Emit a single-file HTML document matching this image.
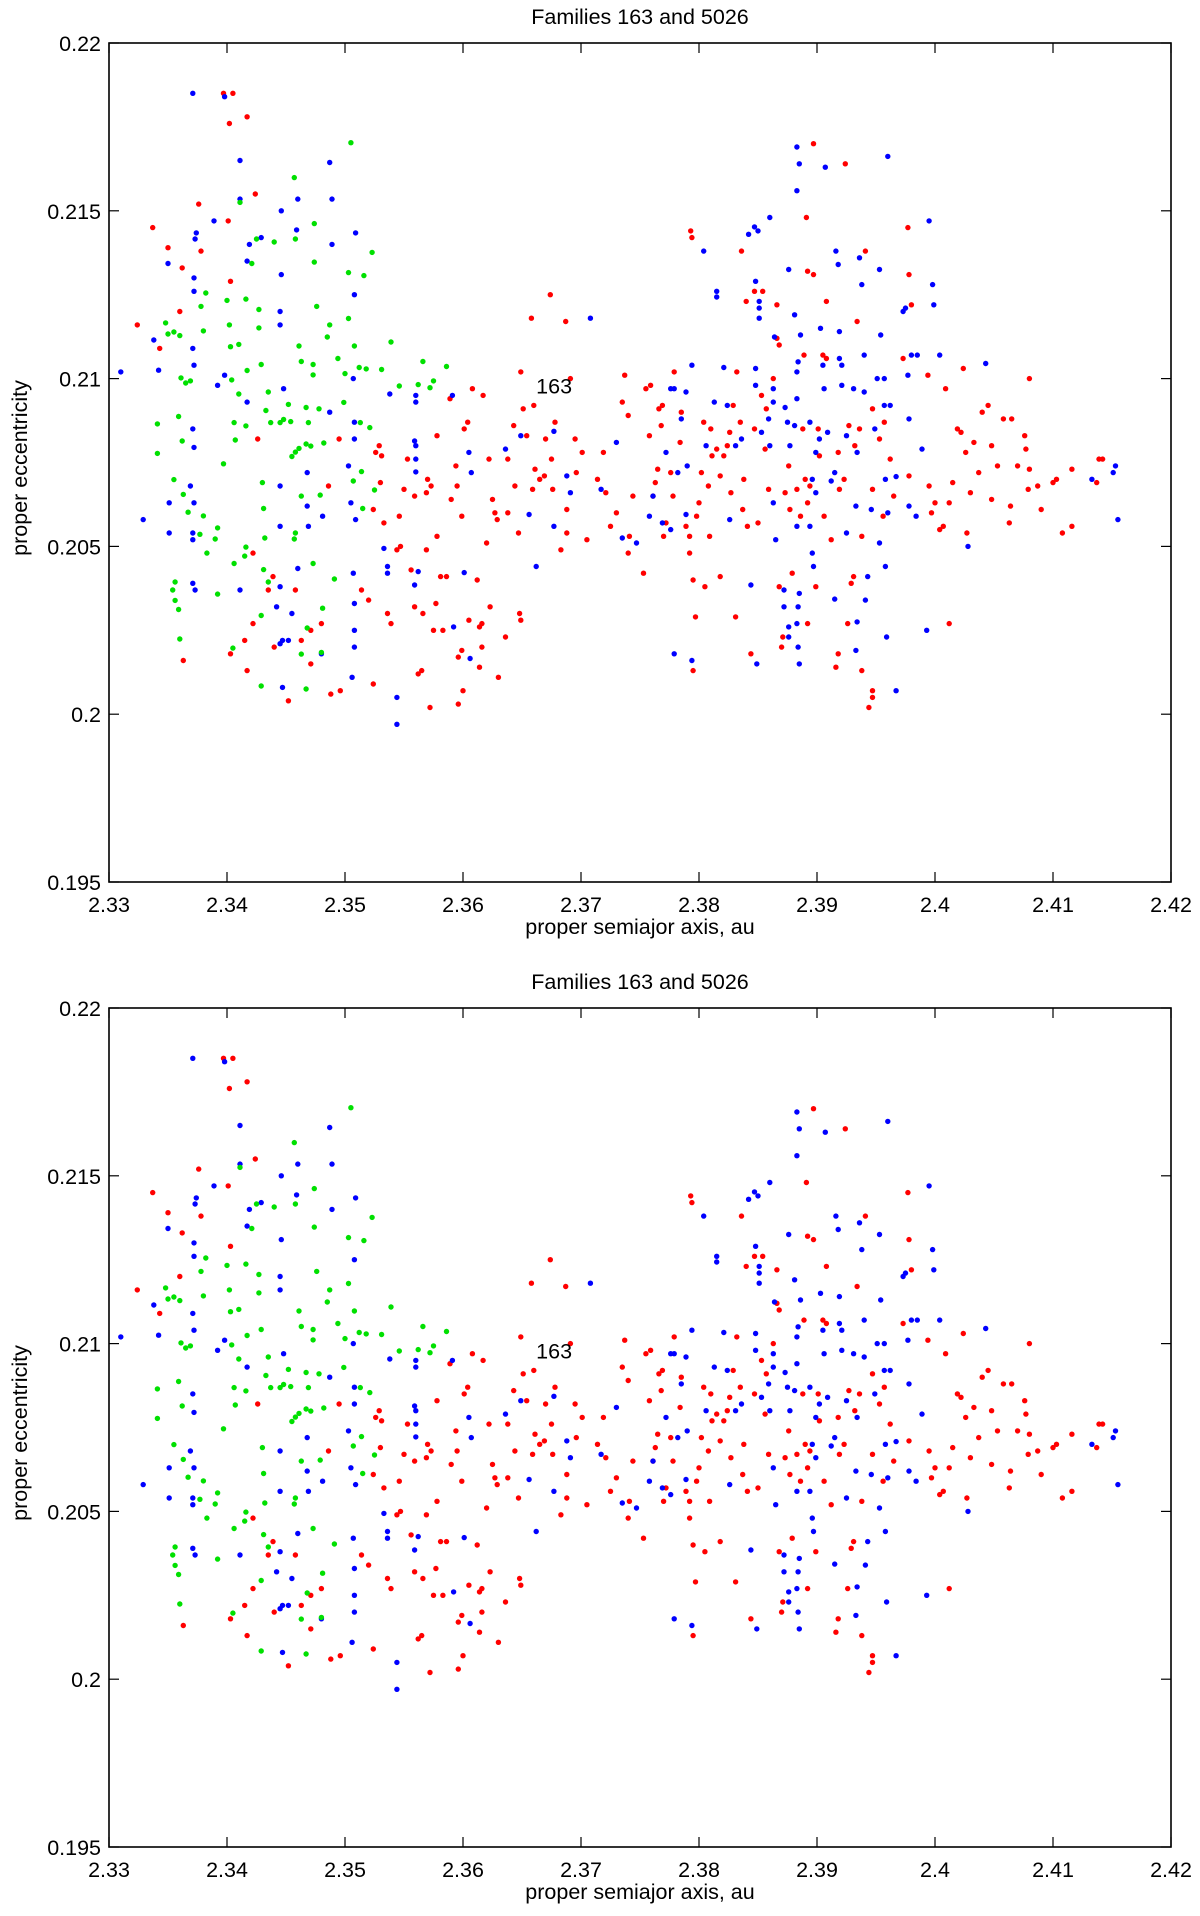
<!DOCTYPE html>
<html><head><meta charset="utf-8"><style>
html,body{margin:0;padding:0;background:#fff;}
svg{display:block;font-family:"Liberation Sans",Arial,sans-serif;}
</style></head><body>
<svg id="root" width="1200" height="1916" viewBox="0 0 1200 1916" xmlns="http://www.w3.org/2000/svg"></svg>
<script>
const xTicks=[2.33,2.34,2.35,2.36,2.37,2.38,2.39,2.4,2.41,2.42];
const xTickLabels=["2.33","2.34","2.35","2.36","2.37","2.38","2.39","2.4","2.41","2.42"];
const yTicks=[0.195,0.2,0.205,0.21,0.215,0.22];
const yTickLabels=["0.195","0.2","0.205","0.21","0.215","0.22"];
const greenPts=[[2.3341,.20865],[2.3341,.20777],[2.3348,.21166],[2.3350,.21133],[2.3355,.21139],[2.3360,.21128],[2.3361,.21002],[2.3365,.20987],[2.3369,.20993],[2.3378,.21215],[2.3382,.21255],[2.3380,.21142],[2.3359,.20887],[2.3362,.20814],[2.3355,.20699],[2.3363,.20655],[2.3367,.20602],[2.3356,.20394],[2.3354,.20370],[2.3356,.20339],[2.3359,.20312],[2.3360,.20224],[2.3377,.20536],[2.3383,.20480],[2.3380,.20591],[2.3390,.20522],[2.3392,.20555],[2.3392,.20358],[2.3397,.20746],[2.3400,.21233],[2.3402,.21160],[2.3403,.21095],[2.3404,.20996],[2.3406,.20869],[2.3407,.20817],[2.3410,.21102],[2.3410,.20954],[2.3411,.21525],[2.3416,.20859],[2.3416,.21237],[2.3417,.21024],[2.3421,.21343],[2.3425,.21416],[2.3427,.21206],[2.3427,.21151],[2.3429,.21042],[2.3430,.20690],[2.3433,.20905],[2.3435,.20960],[2.3437,.20869],[2.3440,.21407],[2.3431,.20613],[2.3432,.20525],[2.3431,.20431],[2.3435,.20394],[2.3429,.20084],[2.3429,.20294],[2.3415,.20471],[2.3416,.20498],[2.3406,.20449],[2.3405,.20197],[2.3445,.20869],[2.3448,.20878],[2.3452,.20923],[2.3455,.20768],[2.3454,.20872],[2.3458,.20781],[2.3458,.20540],[2.3457,.20522],[2.3461,.20792],[2.3457,.21599],[2.3458,.21416],[2.3461,.21097],[2.3463,.21051],[2.3467,.20914],[2.3467,.20805],[2.3469,.20869],[2.3471,.20799],[2.3473,.21011],[2.3474,.21462],[2.3474,.21347],[2.3473,.21042],[2.3476,.21215],[2.3478,.20910],[2.3482,.20808],[2.3479,.20653],[2.3485,.21124],[2.3487,.21160],[2.3491,.20403],[2.3494,.21060],[2.3499,.20929],[2.3500,.21015],[2.3503,.21179],[2.3503,.21316],[2.3505,.21703],[2.3508,.21097],[2.3512,.21033],[2.3513,.20869],[2.3514,.20723],[2.3516,.21307],[2.3518,.21029],[2.3521,.20854],[2.3523,.21376],[2.3525,.20668],[2.3515,.20613],[2.3507,.20695],[2.3473,.20449],[2.3468,.20257],[2.3463,.20179],[2.3467,.20075],[2.3481,.20316],[2.3480,.20184],[2.3463,.20650],[2.3531,.21027],[2.3539,.21109],[2.3546,.20978],[2.3562,.20982],[2.3566,.21051],[2.3572,.20973],[2.3586,.21036],[2.3575,.20993]];
const redPts=[[2.3324,.2116],[2.3337,.2145],[2.3343,.2109],[2.3350,.2139],[2.3362,.2133],[2.3360,.2120],[2.3363,.2016],[2.3376,.2152],[2.3378,.2138],[2.3401,.2147],[2.3403,.2129],[2.3397,.2185],[2.3402,.2176],[2.3405,.2185],[2.3417,.2178],[2.3424,.2155],[2.3403,.2018],[2.3415,.2022],[2.3417,.2013],[2.3422,.2027],[2.3422,.2048],[2.3426,.2082],[2.3439,.2041],[2.3440,.2020],[2.3435,.2037],[2.3452,.2004],[2.3458,.2037],[2.3463,.2022],[2.3471,.2015],[2.3471,.2025],[2.3480,.2027],[2.3486,.2068],[2.3488,.2006],[2.3495,.2082],[2.3496,.2007],[2.3514,.2037],[2.3520,.2034],[2.3524,.2009],[2.3524,.2061],[2.3526,.2078],[2.3529,.2080],[2.3533,.2057],[2.3530,.2069],[2.3531,.2077],[2.3536,.2030],[2.3539,.2027],[2.3544,.2049],[2.3546,.2059],[2.3547,.2050],[2.3550,.2067],[2.3553,.2076],[2.3556,.2043],[2.3559,.2065],[2.3559,.2032],[2.3562,.2012],[2.3565,.2013],[2.3566,.2030],[2.3569,.2066],[2.3569,.2049],[2.3570,.2070],[2.3572,.2002],[2.3573,.2068],[2.3575,.2025],[2.3578,.2083],[2.3578,.2053],[2.3577,.2033],[2.3581,.2041],[2.3586,.2041],[2.3589,.2094],[2.3583,.2025],[2.3590,.2064],[2.3594,.2074],[2.3595,.2068],[2.3596,.2017],[2.3596,.2003],[2.3600,.2007],[2.3601,.2085],[2.3599,.2019],[2.3599,.2059],[2.3604,.2087],[2.3605,.2028],[2.3608,.2097],[2.3612,.2040],[2.3614,.2026],[2.3614,.2014],[2.3616,.2020],[2.3616,.2027],[2.3617,.2095],[2.3620,.2051],[2.3622,.2076],[2.3623,.2032],[2.3625,.2064],[2.3627,.2060],[2.3629,.2058],[2.3630,.2011],[2.3636,.2023],[2.3638,.2076],[2.3638,.2060],[2.3643,.2086],[2.3644,.2068],[2.3647,.2054],[2.3648,.2030],[2.3649,.2028],[2.3649,.2102],[2.3651,.2091],[2.3654,.2083],[2.3658,.2118],[2.3659,.2067],[2.3660,.2092],[2.3661,.2073],[2.3665,.2070],[2.3670,.2082],[2.3669,.2071],[2.3675,.2076],[2.3678,.2087],[2.3676,.2067],[2.3674,.2125],[2.3683,.2049],[2.3687,.2117],[2.3688,.2061],[2.3688,.2054],[2.3695,.2082],[2.3696,.2072],[2.3691,.2100],[2.3701,.2078],[2.3705,.2052],[2.3714,.2070],[2.3719,.2078],[2.3721,.2066],[2.3725,.2056],[2.3730,.2060],[2.3735,.2093],[2.3737,.2101],[2.3740,.2089],[2.3741,.2053],[2.3740,.2048],[2.3744,.2065],[2.3753,.2042],[2.3755,.2097],[2.3758,.2083],[2.3759,.2098],[2.3761,.2065],[2.3763,.2069],[2.3765,.2073],[2.3766,.2091],[2.3768,.2086],[2.3769,.2092],[2.3770,.2053],[2.3772,.2057],[2.3778,.2065],[2.3776,.2072],[2.3779,.2102],[2.3784,.2081],[2.3785,.2090],[2.3789,.2056],[2.3792,.2053],[2.3792,.2048],[2.3795,.2040],[2.3795,.2013],[2.3793,.2144],[2.3794,.2142],[2.3797,.2029],[2.3798,.2059],[2.3800,.2063],[2.3802,.2072],[2.3804,.2087],[2.3805,.2038],[2.3808,.2068],[2.3809,.2053],[2.3810,.2085],[2.3811,.2077],[2.3815,.2079],[2.3818,.2041],[2.3818,.2071],[2.3821,.2077],[2.3824,.2080],[2.3826,.2084],[2.3827,.2066],[2.3829,.2092],[2.3831,.2029],[2.3832,.2102],[2.3835,.2087],[2.3836,.2138],[2.3837,.2061],[2.3838,.2070],[2.3840,.2123],[2.3841,.2056],[2.3844,.2018],[2.3847,.2126],[2.3847,.2085],[2.3850,.2057],[2.3853,.2095],[2.3854,.2126],[2.3856,.2079],[2.3857,.2091],[2.3859,.2067],[2.3863,.2100],[2.3866,.2112],[2.3866,.2122],[2.3868,.2110],[2.3868,.2038],[2.3870,.2020],[2.3871,.2023],[2.3873,.2066],[2.3876,.2074],[2.3877,.2061],[2.3879,.2042],[2.3883,.2067],[2.3886,.2059],[2.3888,.2085],[2.3889,.2107],[2.3890,.2070],[2.3891,.2148],[2.3892,.2132],[2.3892,.2063],[2.3892,.2027],[2.3894,.2068],[2.3897,.2131],[2.3897,.2170],[2.3899,.2038],[2.3901,.2085],[2.3902,.2077],[2.3905,.2107],[2.3906,.2059],[2.3908,.2123],[2.3908,.2106],[2.3912,.2052],[2.3916,.2014],[2.3918,.2078],[2.3918,.2018],[2.3919,.2067],[2.3923,.2070],[2.3924,.2164],[2.3926,.2027],[2.3927,.2086],[2.3929,.2039],[2.3932,.2080],[2.3931,.2041],[2.3934,.2117],[2.3936,.2085],[2.3938,.2053],[2.3938,.2013],[2.3941,.2138],[2.3944,.2002],[2.3947,.2007],[2.3947,.2091],[2.3947,.2067],[2.3947,.2005],[2.3953,.2082],[2.3956,.2059],[2.3957,.2087],[2.3962,.2076],[2.3965,.2065],[2.3973,.2106],[2.3977,.2145],[2.3978,.2071],[2.3980,.2122],[2.3978,.2131],[2.3994,.2101],[2.3995,.2068],[2.3997,.2060],[2.4000,.2063],[2.4004,.2055],[2.4007,.2056],[2.4009,.2097],[2.4012,.2063],[2.4012,.2027],[2.4015,.2069],[2.4024,.2103],[2.4019,.2085],[2.4022,.2084],[2.4026,.2078],[2.4027,.2054],[2.4030,.2066],[2.4033,.2081],[2.4037,.2072],[2.4040,.2090],[2.4045,.2092],[2.4048,.2064],[2.4048,.2080],[2.4053,.2074],[2.4058,.2088],[2.4063,.2057],[2.4064,.2062],[2.4065,.2088],[2.4070,.2074],[2.4076,.2083],[2.4077,.2079],[2.4080,.2100],[2.4079,.2067],[2.4080,.2073],[2.4087,.2068],[2.4090,.2061],[2.4100,.2069],[2.4103,.2070],[2.4108,.2054],[2.4116,.2056],[2.4116,.2073],[2.4137,.2069],[2.4139,.2076],[2.4142,.2076]];
const bluePts=[[2.3310,.2102],[2.3329,.2058],[2.3338,.21115],[2.3342,.21025],[2.3350,.21343],[2.3351,.2054],[2.3351,.2063],[2.3371,.2185],[2.3372,.2130],[2.3373,.21416],[2.3374,.21434],[2.3372,.2126],[2.3371,.2109],[2.3372,.2104],[2.3371,.2085],[2.3372,.20795],[2.3369,.2068],[2.3372,.2063],[2.3371,.2054],[2.3371,.2052],[2.3371,.2039],[2.3373,.2037],[2.3389,.2147],[2.3392,.2098],[2.3398,.2101],[2.3398,.2184],[2.3411,.2165],[2.3411,.21535],[2.3419,.2140],[2.3417,.2135],[2.3417,.2093],[2.3411,.2037],[2.3429,.2142],[2.3446,.2150],[2.3446,.2131],[2.3445,.2120],[2.3445,.2116],[2.3448,.2097],[2.3445,.2068],[2.3445,.2056],[2.3442,.2032],[2.3445,.2021],[2.3447,.2022],[2.3447,.2008],[2.3445,.2038],[2.3460,.21535],[2.3459,.21443],[2.3460,.20434],[2.3455,.2030],[2.3452,.2022],[2.3468,.2072],[2.3468,.2062],[2.3469,.2056],[2.3480,.2018],[2.3481,.2059],[2.3487,.21644],[2.3489,.21535],[2.3489,.2140],[2.3487,.2090],[2.3503,.2074],[2.3505,.2063],[2.3509,.2058],[2.3506,.2011],[2.3508,.2025],[2.3508,.2020],[2.3508,.2033],[2.3507,.2042],[2.3508,.2125],[2.3509,.21434],[2.3507,.2100],[2.3508,.2087],[2.3508,.2082],[2.3533,.20494],[2.3536,.2044],[2.3536,.2042],[2.3538,.20954],[2.3559,.20814],[2.3560,.2080],[2.3560,.2076],[2.3560,.20722],[2.3559,.20385],[2.3562,.20425],[2.3560,.2095],[2.3560,.2093],[2.3544,.1997],[2.3544,.2005],[2.3591,.2095],[2.3601,.20422],[2.3605,.2078],[2.3607,.2072],[2.3606,.20166],[2.3592,.2026],[2.3636,.2079],[2.3649,.2083],[2.3656,.20595],[2.3662,.2044],[2.3677,.2056],[2.3677,.20843],[2.3688,.2071],[2.3691,.2066],[2.3708,.2118],[2.3717,.2067],[2.3730,.2081],[2.3735,.20525],[2.3747,.2051],[2.3758,.2059],[2.3761,.2065],[2.3769,.2057],[2.3776,.2097],[2.3779,.2097],[2.3782,.2072],[2.3776,.2055],[2.3772,.2078],[2.3785,.2088],[2.3789,.2096],[2.3789,.20595],[2.3790,.2074],[2.3779,.2018],[2.3794,.2016],[2.3794,.2104],[2.3804,.2138],[2.3806,.2080],[2.3813,.2093],[2.3815,.21243],[2.3821,.21033],[2.3824,.2092],[2.3815,.2126],[2.3826,.2058],[2.3831,.2080],[2.3836,.2082],[2.3842,.2143],[2.3844,.20385],[2.3847,.21452],[2.3849,.2015],[2.3848,.2129],[2.3850,.2144],[2.3851,.2123],[2.3851,.2121],[2.3851,.2118],[2.3853,.2084],[2.3848,.2098],[2.3848,.2103],[2.3859,.2088],[2.3863,.2097],[2.3863,.2093],[2.3864,.21124],[2.3860,.2148],[2.3860,.2080],[2.3863,.2063],[2.3865,.2052],[2.3872,.2032],[2.3873,.20914],[2.3875,.2087],[2.3872,.2037],[2.3876,.2026],[2.3876,.2023],[2.3883,.2027],[2.3884,.2020],[2.3885,.2015],[2.3884,.2032],[2.3885,.2036],[2.3883,.2156],[2.3885,.2164],[2.3883,.2169],[2.3886,.2113],[2.3876,.21325],[2.3881,.2119],[2.3884,.2105],[2.3883,.2102],[2.3883,.2094],[2.3881,.2086],[2.3877,.2080],[2.3894,.2087],[2.3896,.2070],[2.3883,.2056],[2.3894,.2056],[2.3896,.2048],[2.3897,.2044],[2.3899,.2078],[2.3899,.2066],[2.3902,.2082],[2.3903,.2115],[2.3905,.2104],[2.3906,.2097],[2.3907,.2163],[2.3909,.2084],[2.3912,.20695],[2.3915,.20343],[2.3915,.2072],[2.3916,.2138],[2.3918,.2134],[2.3919,.2114],[2.3919,.2106],[2.3921,.2104],[2.3925,.2083],[2.3925,.2054],[2.3921,.2098],[2.3931,.2097],[2.3933,.2062],[2.3933,.2019],[2.3934,.20275],[2.3934,.2078],[2.3936,.2136],[2.3938,.2128],[2.3940,.2107],[2.3940,.2096],[2.3941,.2034],[2.3943,.2041],[2.3946,.2061],[2.3949,.2085],[2.3951,.2100],[2.3953,.2051],[2.3953,.21325],[2.3954,.2113],[2.3957,.2100],[2.3957,.2092],[2.3958,.2044],[2.3958,.2070],[2.3959,.2023],[2.3960,.21662],[2.3962,.2092],[2.3967,.20708],[2.3960,.2060],[2.3967,.2007],[2.3973,.2120],[2.3975,.2121],[2.3977,.2101],[2.3978,.2088],[2.3978,.2062],[2.3980,.2107],[2.3985,.2107],[2.3984,.2059],[2.3989,.2079],[2.3993,.2025],[2.3995,.2147],[2.3998,.2128],[2.3999,.2122],[2.4004,.2107],[2.4028,.2050],[2.4043,.21045],[2.4133,.2070],[2.4151,.2072],[2.4153,.2074],[2.4155,.2058]];

const NS="http://www.w3.org/2000/svg";
const root=document.getElementById('root');
const L=109,R=1171,PH=839,xMin=2.33,xMax=2.42,yMin=0.195,yMax=0.22;
const FS=21.5;
function mk(tag,attrs,parent){const e=document.createElementNS(NS,tag);for(const k in attrs)e.setAttribute(k,attrs[k]);parent.appendChild(e);return e;}

function drawChart(top,idx){
  const g=mk('g',{},root);
  
  
  const xs=v=>L+(v-xMin)/(xMax-xMin)*(R-L);
  const ys=v=>top+PH-(v-yMin)/(yMax-yMin)*PH;
  const bot=top+PH;
  const title=mk('text',{x:640,y:top-19,'text-anchor':'middle','font-size':FS,fill:'#000'},g);
  title.textContent='Families 163 and 5026';
  
  
  const pts=mk('g',{},g);
  
  
  const series=[[redPts,'#ff0000','red'],[bluePts,'#0000ff','blue'],[greenPts,'#00e000','green']];
  series.forEach(([arr,col,nm])=>{
    arr.forEach(p=>{
      const c=mk('circle',{cx:xs(p[0]).toFixed(1),cy:ys(p[1]).toFixed(1),r:2.7,fill:col},pts);
      
      
    });
  });
  const lbl=mk('text',{x:xs(2.3662),y:ys(0.20955),'font-size':FS,fill:'#000'},g);
  lbl.textContent='163';
  
  
  const box=mk('rect',{x:L,y:top,width:R-L,height:PH,fill:'none',stroke:'#000','stroke-width':1.6},g);
  
  
  xTicks.forEach((t,i)=>{
    const x=xs(t);
    mk('line',{x1:x,y1:bot,x2:x,y2:bot-10,stroke:'#000','stroke-width':1.2},g);
    mk('line',{x1:x,y1:top,x2:x,y2:top+10,stroke:'#000','stroke-width':1.2},g);
    const tx=mk('text',{x:x,y:bot+30,'text-anchor':'middle','font-size':FS,fill:'#000'},g);
    tx.textContent=xTickLabels[i];
    
    
  });
  yTicks.forEach((t,i)=>{
    const y=ys(t);
    mk('line',{x1:L,y1:y,x2:L+10,y2:y,stroke:'#000','stroke-width':1.2},g);
    mk('line',{x1:R,y1:y,x2:R-10,y2:y,stroke:'#000','stroke-width':1.2},g);
    const ty=mk('text',{x:L-8,y:y+8,'text-anchor':'end','font-size':FS,fill:'#000'},g);
    ty.textContent=yTickLabels[i];
    
    
  });
  const xl=mk('text',{x:640,y:bot+52,'text-anchor':'middle','font-size':FS,fill:'#000'},g);
  xl.textContent='proper semiajor axis, au';
  
  
  const yc=top+425;
  const yl=mk('text',{x:20,y:yc,'text-anchor':'middle','dominant-baseline':'central','font-size':FS,fill:'#000',transform:'rotate(-90 20 '+yc+')'},g);
  yl.textContent='proper eccentricity';
  
  
}
drawChart(43,1);
drawChart(1008,2);
</script>
</body></html>
